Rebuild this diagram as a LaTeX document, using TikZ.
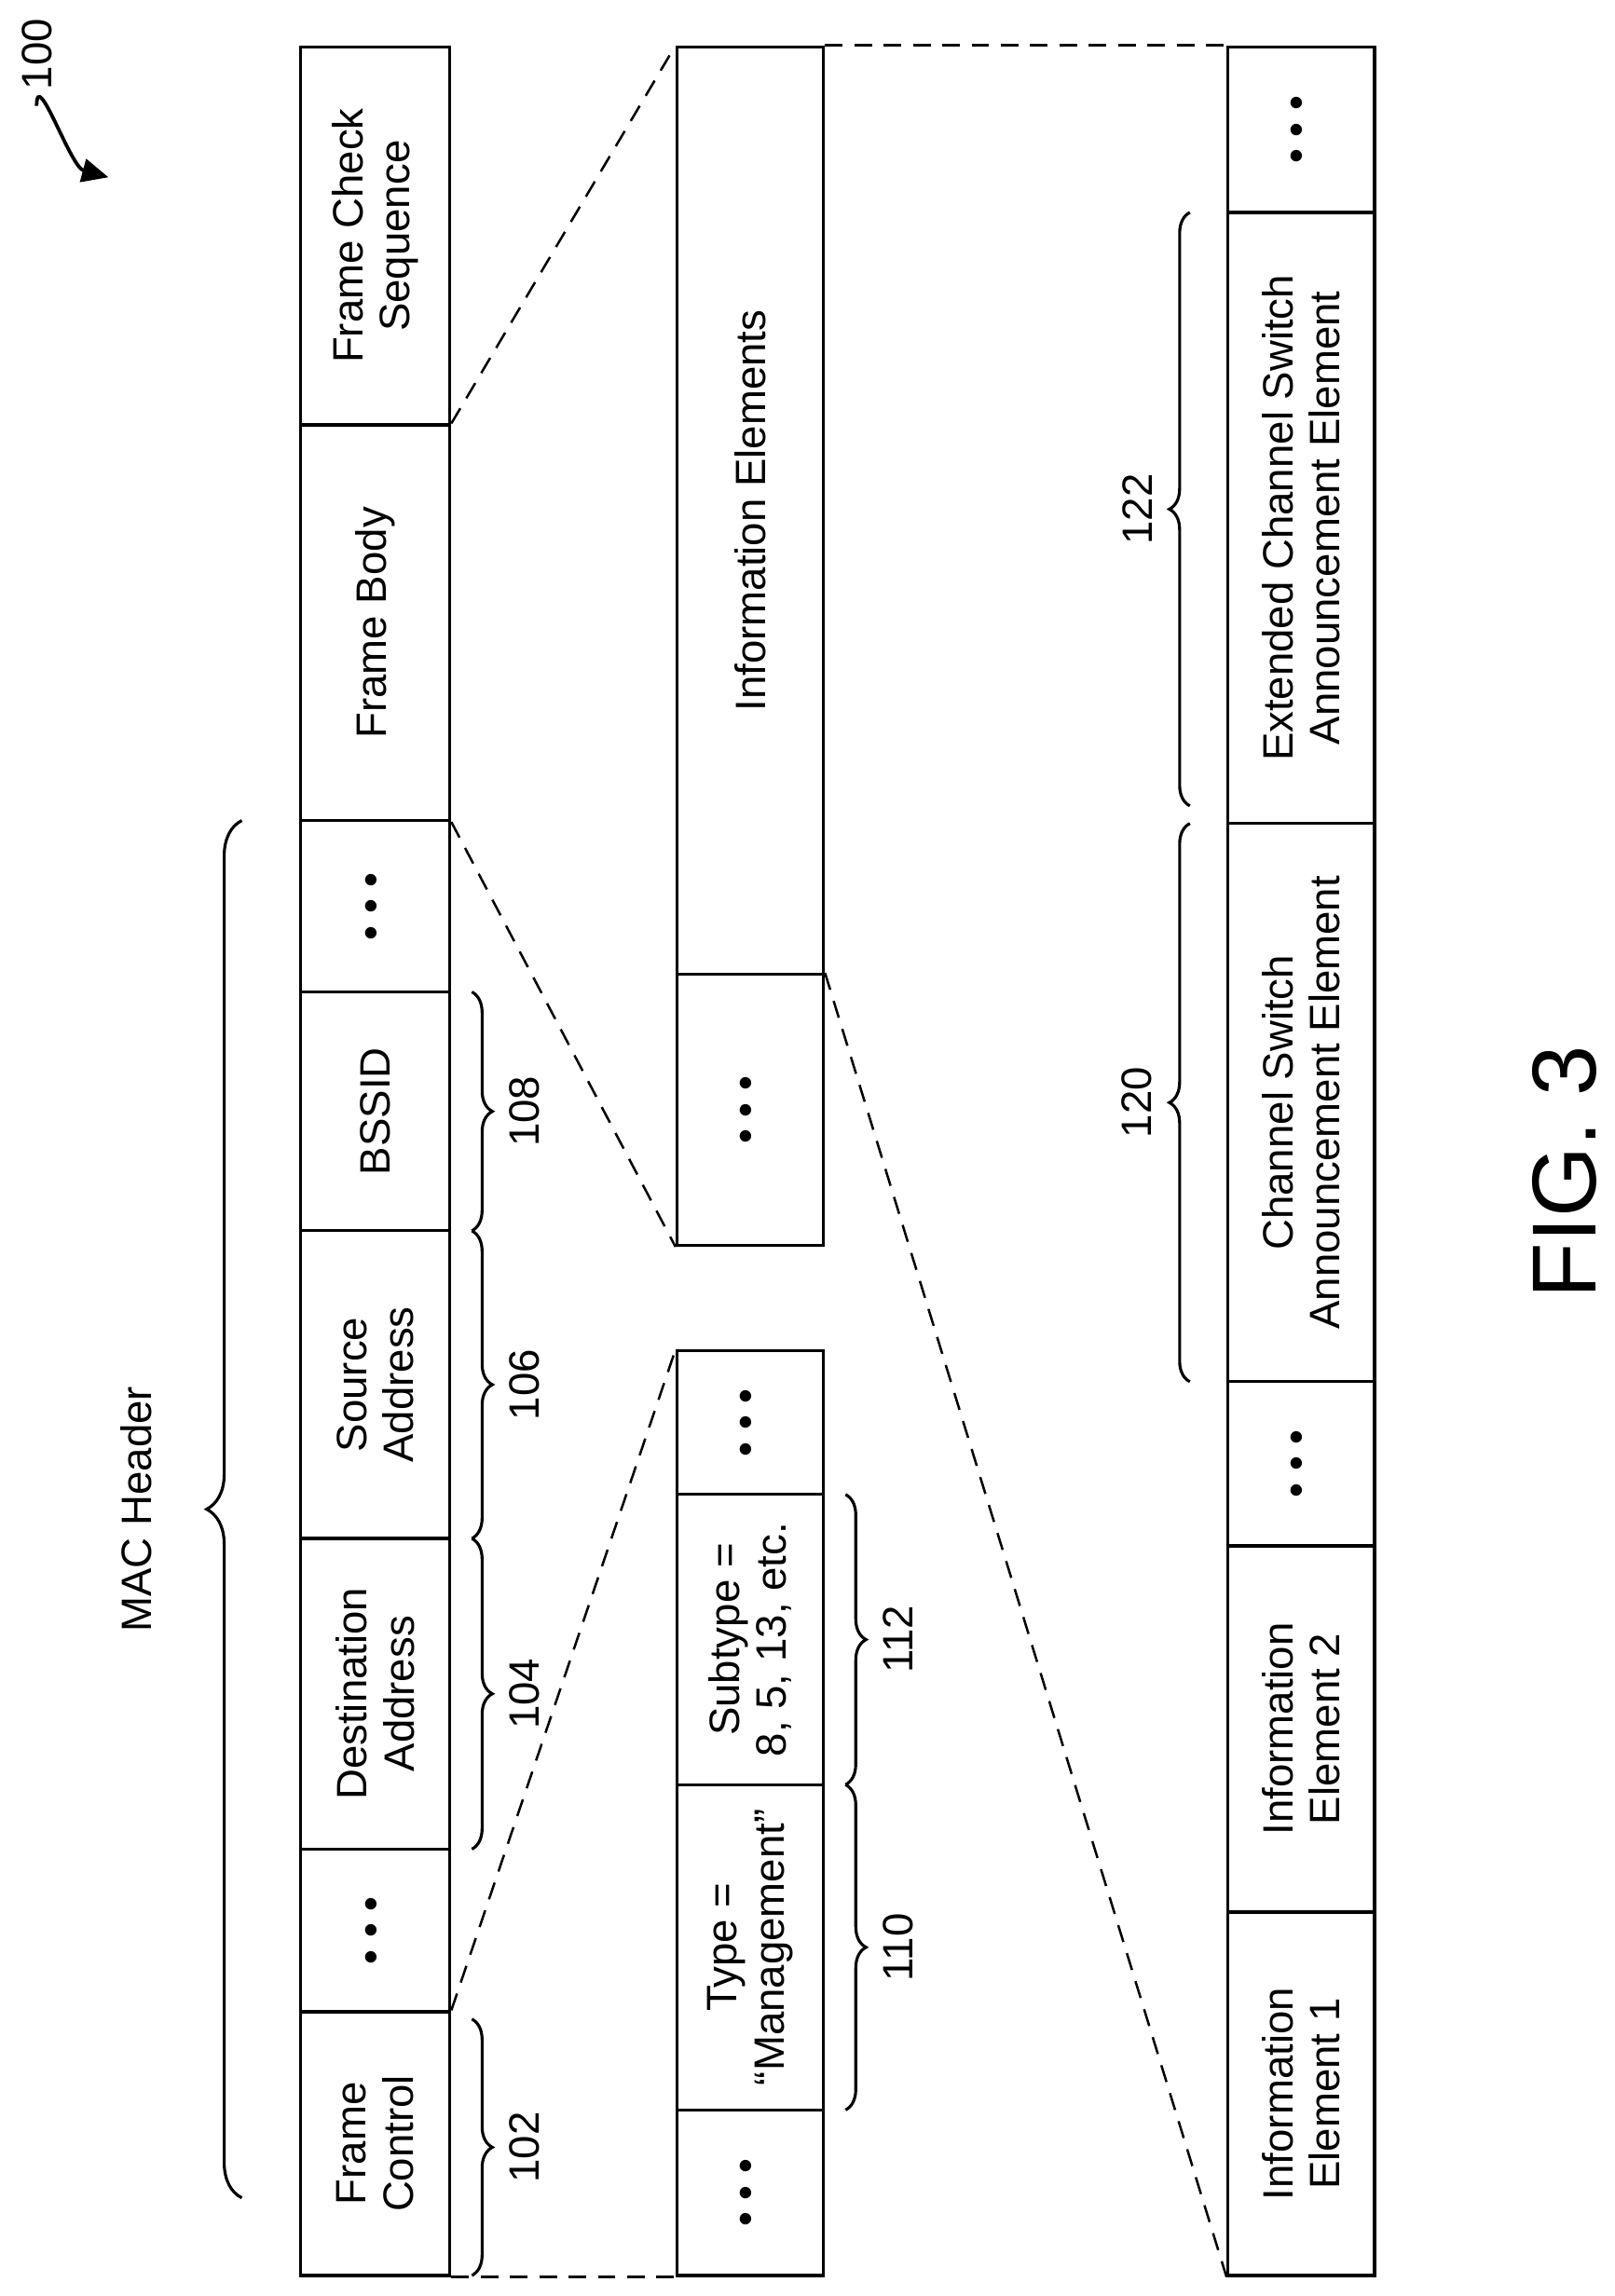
\documentclass[tikz,border=0pt]{standalone}
\usepackage{fontspec}
\setmainfont{Liberation Sans}
\usetikzlibrary{decorations.pathreplacing,arrows.meta}
\begin{document}
\begin{tikzpicture}[x=0.5pt,y=-0.5pt,
  box/.style={draw,line width=1pt,minimum width=#1,inner sep=0pt},
  txt/.style={rotate=90,align=center,font=\fontsize{14.5}{16}\selectfont},
  dl/.style={dashed,line width=0.8pt,dash pattern=on 6pt off 4pt},
  br/.style={decorate,decoration={brace,amplitude=7pt},line width=1pt},
  num/.style={rotate=90,font=\fontsize{14.5}{16}\selectfont}]
\useasboundingbox (0,0) rectangle (1102,1567);
\def\dots{\textbullet\hspace{4pt}\textbullet\hspace{4pt}\textbullet}
% column 1
\node[box=51pt,minimum height=90pt] (fc) at (256,1463) {};
\node[txt] at (fc) {Frame\\Control};
\node[box=51pt,minimum height=55.5pt] (d1) at (256,1317.5) {};
\node[txt] at (d1) {\dots};
\node[box=51pt,minimum height=106pt] (da) at (256,1156) {};
\node[txt] at (da) {Destination\\Address};
\node[box=51pt,minimum height=105pt] (sa) at (256,945) {};
\node[txt] at (sa) {Source\\Address};
\node[box=51pt,minimum height=81.5pt] (bs) at (256,758.5) {};
\node[txt] at (bs) {BSSID};
\node[box=51pt,minimum height=58.5pt] (d2) at (256,618.5) {};
\node[txt] at (d2) {\dots};
\node[box=51pt,minimum height=135pt] (fb) at (256,425) {};
\node[txt] at (fb) {Frame Body};
\node[box=51pt,minimum height=129pt] (fcs) at (256,161) {};
\node[txt] at (fcs) {Frame Check\\Sequence};
% column 2
\node[box=50pt,minimum height=56.5pt] (c2a) at (512,1496.5) {};
\node[txt] at (c2a) {\dots};
\node[box=50pt,minimum height=111pt] (ty) at (512,1329) {};
\node[txt] at (ty) {Type =\\``Management''};
\node[box=50pt,minimum height=99pt] (st) at (512,1119) {};
\node[txt] at (st) {Subtype =\\8, 5, 13, etc.};
\node[box=50pt,minimum height=49pt] (c2b) at (512,971) {};
\node[txt] at (c2b) {\dots};
\node[box=50pt,minimum height=92.5pt] (ied) at (512,757.5) {};
\node[txt] at (ied) {\dots};
\node[box=50pt,minimum height=316.5pt] (ie) at (512,348.5) {};
\node[txt] at (ie) {Information Elements};
% column 3
\node[box=50pt,minimum height=124pt] (ie1) at (888,1429) {};
\node[txt] at (ie1) {Information\\Element 1};
\node[box=50pt,minimum height=125pt] (ie2) at (888,1180) {};
\node[txt] at (ie2) {Information\\Element 2};
\node[box=50pt,minimum height=56pt] (c3a) at (888,999) {};
\node[txt] at (c3a) {\dots};
\node[box=50pt,minimum height=190.5pt] (cs) at (888,752.5) {};
\node[txt] at (cs) {Channel Switch\\Announcement Element};
\node[box=50pt,minimum height=208.5pt] (ecs) at (888,353.5) {};
\node[txt] at (ecs) {Extended Channel Switch\\Announcement Element};
\node[box=50pt,minimum height=56.5pt] (c3b) at (888,88.5) {};
\node[txt] at (c3b) {\dots};
% dashed
\draw[dl] (fc.south east) -- (c2a.south west);
\draw[dl] (fc.north east) -- (c2b.north west);
\draw[dl] (fb.south east) -- (ied.south west);
\draw[dl] (fb.north east) -- (ie.north west);
\draw[dl] (ie.north east) -- (c3b.north west);
\draw[dl] (ied.north east) -- (ie1.south west);
% braces
\coordinate (m1) at (165,1500); \coordinate (m2) at (165,560);
\draw[br,decoration={amplitude=12pt}] (m1) -- (m2) node[midway,xshift=-36pt,num] (mac) {MAC Header};
\coordinate (b1) at (322,1378); \coordinate (b2) at (322,1553);
\draw[br] (b1) -- (b2) node[midway,xshift=18pt,num] (n102) {102};
\coordinate (b3) at (322,1050); \coordinate (b4) at (322,1262);
\draw[br] (b3) -- (b4) node[midway,xshift=18pt,num] (n104) {104};
\coordinate (b5) at (322,840); \coordinate (b6) at (322,1050);
\draw[br] (b5) -- (b6) node[midway,xshift=18pt,num] (n106) {106};
\coordinate (b7) at (322,677); \coordinate (b8) at (322,840);
\draw[br] (b7) -- (b8) node[midway,xshift=18pt,num] (n108) {108};
\coordinate (b9) at (577,1218); \coordinate (b10) at (577,1440);
\draw[br] (b9) -- (b10) node[midway,xshift=18pt,num] (n110) {110};
\coordinate (b11) at (577,1020); \coordinate (b12) at (577,1218);
\draw[br] (b11) -- (b12) node[midway,xshift=18pt,num] (n112) {112};
\coordinate (b13) at (812,943); \coordinate (b14) at (812,562);
\draw[br] (b13) -- (b14) node[midway,xshift=-18pt,num] (n120) {120};
\coordinate (b15) at (812,550); \coordinate (b16) at (812,145);
\draw[br] (b15) -- (b16) node[midway,xshift=-18pt,num] (n122) {122};
% ref 100
\node[num] (r100) at (25,37) {100};
\coordinate (a100) at (74,121);
\draw[line width=1.2pt,-{Triangle[length=9pt,width=8pt]}] (r100.west) ++(0,4) to[out=90,in=165] (a100);
\node[rotate=90,font=\fontsize{31}{36}\selectfont] (fig) at (1068,800) {FIG. 3};
\end{tikzpicture}
\end{document}
